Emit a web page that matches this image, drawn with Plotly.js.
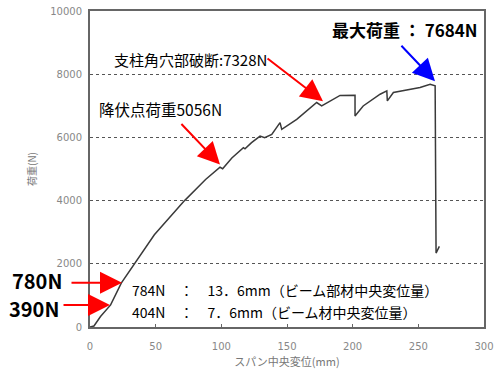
<!DOCTYPE html>
<html><head><meta charset="utf-8">
<script src="https://cdn.plot.ly/plotly-3.0.1.min.js"></script>
<style>html,body{margin:0;padding:0;background:#fff}#c{width:495px;height:376px}</style>
</head><body><div id="c"></div>
<script>
const displacement = [0, 3, 8, 15.7, 23.8, 34, 49, 72, 88, 99, 101, 108, 116.8, 118, 123, 129.5, 133, 138.4, 144.7, 146, 157.4, 172.6, 176.4, 190.4, 200.5, 201.8, 201.8, 208, 220.9, 226, 226.4, 231, 251.3, 259, 262.8, 263.5, 266];
const load = [0, 30, 330, 698, 1387, 2000, 2920, 4000, 4667, 5056, 5010, 5350, 5674, 5640, 5833, 6042, 5990, 6096, 6467, 6255, 6572, 7103, 6995, 7328, 7313, 7334, 6677, 6995, 7366, 7471, 7154, 7420, 7578, 7684, 7630, 2340, 2550];
const yTicks = [0, 2000, 4000, 6000, 8000, 10000];
const yTickText = ['0', '2000', '4000', '6000', '8000', '10000'];
const xTicks = [0, 50, 100, 150, 200, 250, 300];

const jp = '"Noto Sans CJK JP", "Noto Sans", sans-serif';
const trace = {x: displacement, y: load, mode: 'lines', line: {color: '#3a3a3a', width: 1.5}, hoverinfo: 'skip'};

function arrow(x, y, ax, ay, color) {
  return {xref: 'paper', yref: 'paper', x: x, y: y, ax: ax, ay: ay, text: '', showarrow: true,
          arrowhead: 2, arrowsize: 2.2, arrowwidth: 2, arrowcolor: color};
}
function label(x, y, text, size, bold) {
  return {xref: 'paper', yref: 'paper', x: x, y: y, xanchor: 'left', yanchor: 'middle', showarrow: false,
          text: bold ? '<b>' + text + '</b>' : text, font: {family: jp, size: size, color: '#000'}};
}

const layout = {
  width: 495, height: 376,
  margin: {l: 90, r: 11, t: 11, b: 49},
  paper_bgcolor: '#fff', plot_bgcolor: '#fff',
  showlegend: false,
  xaxis: {range: [0, 300], tickvals: xTicks, ticks: 'inside', ticklen: 3, tickcolor: '#666',
          showgrid: false, zeroline: false, showline: true, linecolor: '#666', linewidth: 2, mirror: true,
          ticklabelstandoff: 9,
          tickfont: {family: 'DejaVu Sans, sans-serif', size: 10, color: '#888'},
          title: {text: 'スパン中央変位(mm)', font: {family: jp, size: 11, color: '#777'}, standoff: 7}},
  yaxis: {range: [0, 10000], tickvals: yTicks, ticktext: yTickText, ticks: '', showgrid: true, gridcolor: '#555', griddash: 'dot', gridwidth: 1,
          zeroline: false, showline: true, linecolor: '#666', linewidth: 2, mirror: true,
          ticklabelstandoff: 4,
          tickfont: {family: 'DejaVu Sans, sans-serif', size: 10, color: '#888'},
          title: {text: '荷重(N)', font: {family: jp, size: 10, color: '#777'}, standoff: 12}},
  annotations: [
    label(0.0558, 0.8476, '支柱角穴部破断:7328N', 15, false),
    label(0.0178, 0.689, '降伏点荷重5056N', 15.5, false),
    label(0.609, 0.943, '最大荷重 ： 7684N', 17, true),
    label(-0.203, 0.148, '780N', 20, true),
    label(-0.2107, 0.057, '390N', 20, true),
    label(0.1015, 0.1175, '784N　：　13．6mm（ビーム部材中央変位量）', 14, false),
    label(0.1015, 0.0476, '404N　：　7．6mm（ビーム材中央変位量）', 14, false),
    arrow(0.5914, 0.7143, -57, -44, '#ff0000'),
    arrow(0.3299, 0.5143, -40, -42, '#ff0000'),
    arrow(0.0812, 0.1397, -52, 0, '#ff0000'),
    arrow(0.0508, 0.0698, -48, 0, '#ff0000'),
    arrow(0.8756, 0.7778, -35, -37, '#0000ff')
  ]
};
Plotly.newPlot('c', [trace], layout, {staticPlot: true});
</script></body></html>
